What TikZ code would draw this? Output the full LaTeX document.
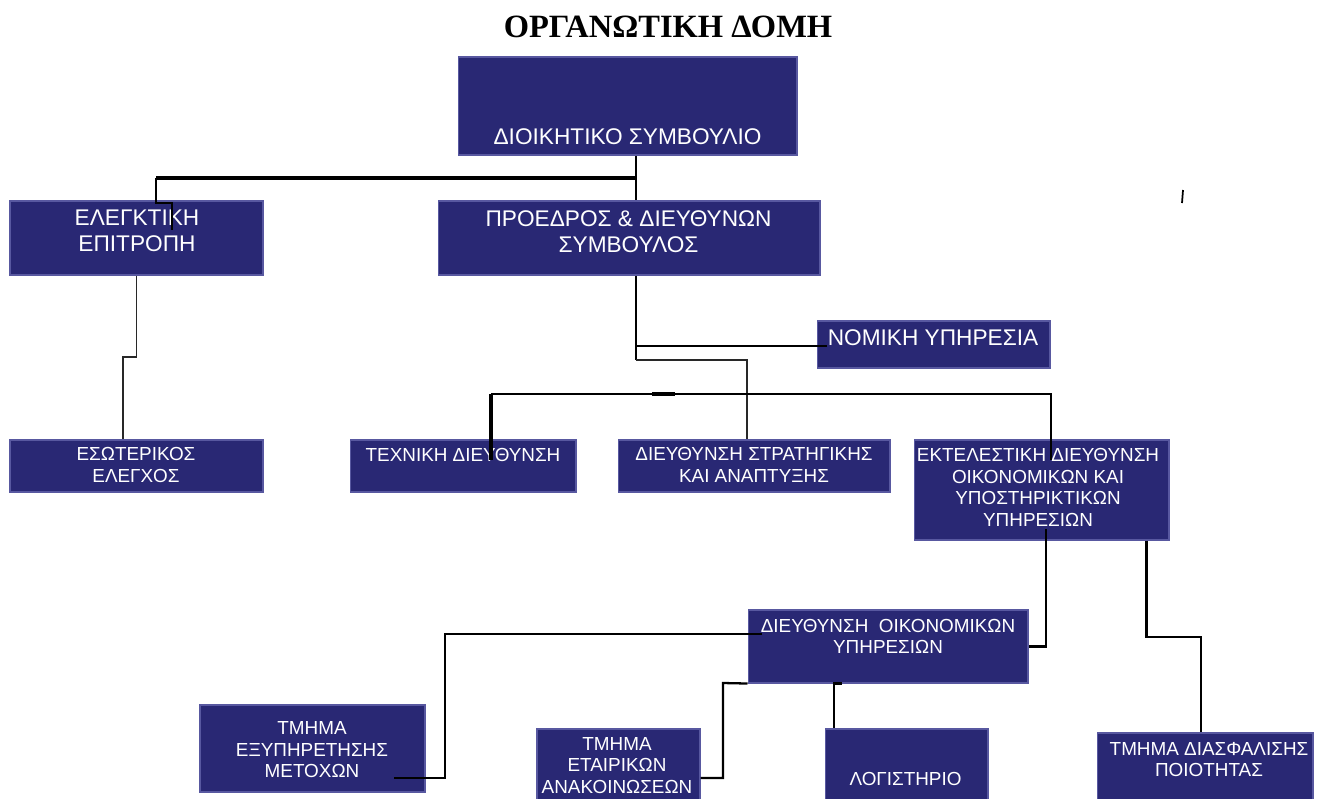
\documentclass[tikz,border=0pt]{standalone}
\usepackage{fontspec}
\setmainfont{Liberation Serif}
\newfontfamily\unitfont{Liberation Sans}
\usetikzlibrary{positioning,calc}

\definecolor{unitfill}{RGB}{41,40,116}
\definecolor{unitedge}{RGB}{88,88,160}
\definecolor{wiregray}{RGB}{40,40,40}

\tikzset{
	unit/.style={draw=unitedge, line width=0.6pt, fill=unitfill, inner sep=0pt},
	unittext/.style={text=white, align=center, inner sep=0pt,
		font=\unitfont\fontsize{10.75}{12.2}\selectfont},
	bigtext/.style={unittext, font=\unitfont\fontsize{12.9}{14.8}\selectfont},
	wire/.style={line width=1.3pt, black},
	thinwire/.style={line width=0.8pt, wiregray},
	heavywire/.style={line width=1.8pt, black}
}

\begin{document}
\begin{tikzpicture}[x=0.02cm, y=-0.02cm]
	\useasboundingbox (0,0) rectangle (1317,798);

	\node[font=\bfseries\fontsize{18.5}{22}\selectfont] (title) at (668,27) {ΟΡΓΑΝΩΤΙΚΗ ΔΟΜΗ};

	% boxes
	\node[unit, minimum width=6.78cm, minimum height=1.96cm] (board) at (627.5,106) {};
	\node[unit, minimum width=5.06cm, minimum height=1.48cm] (audit) at (136.5,238) {};
	\node[unit, minimum width=7.64cm, minimum height=1.48cm] (ceo) at (629,238) {};
	\node[unit, minimum width=4.66cm, minimum height=0.94cm] (legal) at (933.5,344.5) {};
	\node[unit, minimum width=5.06cm, minimum height=1.04cm] (internal) at (136.5,466) {};
	\node[unit, minimum width=4.52cm, minimum height=1.04cm] (tech) at (463,466) {};
	\node[unit, minimum width=5.44cm, minimum height=1.04cm] (strat) at (754,466) {};
	\node[unit, minimum width=5.10cm, minimum height=2.00cm] (exec) at (1041.5,490) {};
	\node[unit, minimum width=5.60cm, minimum height=1.46cm] (fin) at (888,646.5) {};
	\node[unit, minimum width=4.50cm, minimum height=1.74cm] (shares) at (312.5,748.5) {};
	\node[unit, minimum width=3.26cm, minimum height=1.42cm] (announce) at (618.5,764.5) {};
	\node[unit, minimum width=3.26cm, minimum height=1.42cm] (accounts) at (906.5,764.5) {};
	\node[unit, minimum width=4.32cm, minimum height=1.34cm] (quality) at (1205,766.5) {};

	% texts
	\node[bigtext] (boardtxt) at (627.5,137) {ΔΙΟΙΚΗΤΙΚΟ ΣΥΜΒΟΥΛΙΟ};
	\node[bigtext] (audittxt) at (137,231) {ΕΛΕΓΚΤΙΚΗ\\ΕΠΙΤΡΟΠΗ};
	\node[bigtext] (ceotxt) at (628.5,232) {ΠΡΟΕΔΡΟΣ \& ΔΙΕΥΘΥΝΩΝ\\ΣΥΜΒΟΥΛΟΣ};
	\node[bigtext] (legaltxt) at (933,338) {ΝΟΜΙΚΗ ΥΠΗΡΕΣΙΑ};
	\node[unittext] (internaltxt) at (136,465) {ΕΣΩΤΕΡΙΚΟΣ\\ΕΛΕΓΧΟΣ};
	\node[unittext] (techtxt) at (463,455) {ΤΕΧΝΙΚΗ ΔΙΕΥΘΥΝΣΗ};
	\node[unittext] (strattxt) at (754,465) {ΔΙΕΥΘΥΝΣΗ ΣΤΡΑΤΗΓΙΚΗΣ\\ΚΑΙ ΑΝΑΠΤΥΞΗΣ};
	\node[unittext] (exectxt) at (1038,487.5) {ΕΚΤΕΛΕΣΤΙΚΗ ΔΙΕΥΘΥΝΣΗ\\ΟΙΚΟΝΟΜΙΚΩΝ ΚΑΙ\\ΥΠΟΣΤΗΡΙΚΤΙΚΩΝ\\ΥΠΗΡΕΣΙΩΝ};
	\node[unittext] (fintxt) at (888,636.5) {ΔΙΕΥΘΥΝΣΗ\ \ ΟΙΚΟΝΟΜΙΚΩΝ\\ΥΠΗΡΕΣΙΩΝ};
	\node[unittext] (sharestxt) at (312,750) {ΤΜΗΜΑ\\ΕΞΥΠΗΡΕΤΗΣΗΣ\\ΜΕΤΟΧΩΝ};
	\node[unittext] (announcetxt) at (617,765.5) {ΤΜΗΜΑ\\ΕΤΑΙΡΙΚΩΝ\\ΑΝΑΚΟΙΝΩΣΕΩΝ};
	\node[unittext] (accountstxt) at (905.5,779) {ΛΟΓΙΣΤΗΡΙΟ};
	\node[unittext] (qualitytxt) at (1209,759.5) {ΤΜΗΜΑ ΔΙΑΣΦΑΛΙΣΗΣ\\ΠΟΙΟΤΗΤΑΣ};

	% board level
	\coordinate (j1) at (636,178);
	\coordinate (auditend) at (172,230);
	\draw[wire] (board.south -| j1) -- (ceo.north -| j1);
	\draw[heavywire] (j1) -- (156,178);
	\draw[wire] (156,178) |- (172,203) -- (auditend);
	\coordinate (k1) at (123,357);
	\draw[thinwire] (audit.south) |- (k1) -- (internal.north -| k1);

	% ceo level
	\coordinate (j2) at (636,346);
	\coordinate (j3) at (636,360);
	\coordinate (legalend) at (827,346);
	\coordinate (k2) at (747,360);
	\draw[wire] (ceo.south -| j2) -- (j3);
	\draw[wire] (j2) -- (legalend);
	\draw[thinwire] (j3) -- (k2) -- (strat.north -| k2);

	\coordinate (b1) at (491,394);
	\coordinate (b2) at (1051,394);
	\coordinate (techend) at (491,460);
	\coordinate (execend) at (1051,460);
	\draw[wire] (b1) -- (b2) -- (execend);
	\draw[heavywire] (techend) -- (b1);
	\draw[heavywire] (652,394) -- (675,394);

	% executive level
	\coordinate (e1) at (1046,529);
	\coordinate (e2) at (1146.5,637);
	\coordinate (e3) at (1201,637);
	\draw[wire] (e1) |- (fin.east);
	\draw[wire] (exec.south -| e2) -- (e2) -- (e3) -- (quality.north -| e3);

	% finance level
	\coordinate (f1) at (762,634);
	\coordinate (f2) at (445,634);
	\coordinate (sharesend) at (394,778);
	\coordinate (f3) at (723,683);
	\coordinate (f4) at (723,778);
	\coordinate (f5) at (834,683);
	\coordinate (f6) at (842,683);
	\draw[wire] (f1) -- (f2) |- (sharesend);
	\draw[wire] (fin.south west) -- (f3) -- (f4) -- (announce.east |- f4);
	\draw[wire] (fin.south -| f6) -- (fin.south -| f5) -- (accounts.north -| f5);

	\draw[line width=1pt] (1183,190) -- (1182,203);
\end{tikzpicture}
\end{document}
